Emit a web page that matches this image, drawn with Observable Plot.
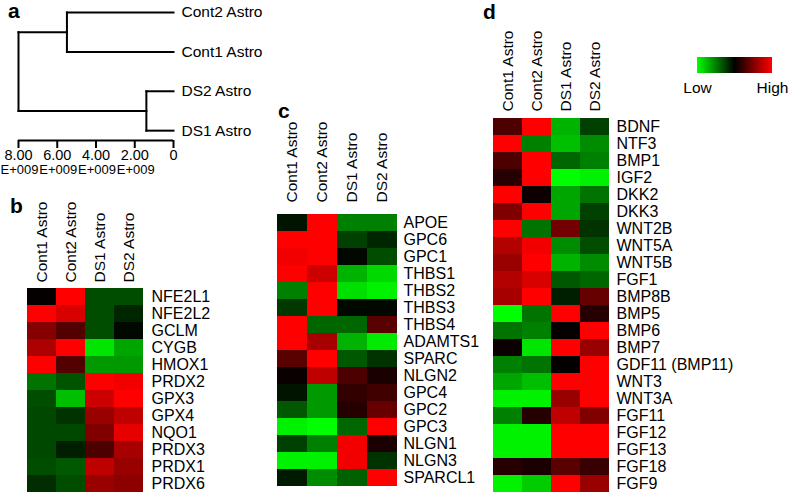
<!DOCTYPE html>
<html><head><meta charset="utf-8">
<script src="https://cdn.jsdelivr.net/npm/d3@7"></script>
<script src="https://cdn.jsdelivr.net/npm/@observablehq/plot@0.6"></script>
<style>
body{margin:0;background:#fff;}
#fig{position:relative;width:788px;height:493px;overflow:hidden;font-family:"Liberation Sans",Arial,Helvetica,sans-serif;color:#000;}
#fig svg{position:absolute;left:0;top:0;background:transparent !important;max-width:none !important;}
.panel{position:absolute;font-weight:bold;font-size:21px;line-height:1;}
</style></head><body><div id="fig"></div>
<script>
// ---------- data ----------
const samples = ["Cont1 Astro", "Cont2 Astro", "DS1 Astro", "DS2 Astro"];

const dendroLeaves = ["Cont2 Astro", "Cont1 Astro", "DS2 Astro", "DS1 Astro"];
const dendroMerges = [5.5, 1.4, 8.0]; // Cont cluster, DS cluster, root (x1e9)
const dendroTicks = [8, 6, 4, 2, 0];
const dendroTickLabels = ["8.00", "6.00", "4.00", "2.00", "0"];
const dendroTickExponents = ["E+009", "E+009", "E+009", "E+009", ""];

const genesB = ["NFE2L1","NFE2L2","GCLM","CYGB","HMOX1","PRDX2","GPX3","GPX4","NQO1","PRDX3","PRDX1","PRDX6"];
const valuesB = [
  [0.02, 1, -0.3, -0.3],
  [1, 0.85, -0.3, -0.15],
  [0.52, 0.32, -0.3, -0.03],
  [0.68, 1, -0.9, -0.65],
  [1, 0.32, -0.6, -0.6],
  [-0.45, -0.33, 1, 0.95],
  [-0.3, -0.75, 0.8, 1],
  [-0.28, -0.2, 0.6, 0.75],
  [-0.28, -0.28, 0.5, 0.9],
  [-0.28, -0.12, 0.3, 0.65],
  [-0.3, -0.35, 0.75, 0.6],
  [-0.18, -0.3, 0.6, 0.55]
];

const genesC = ["APOE","GPC6","GPC1","THBS1","THBS2","THBS3","THBS4","ADAMTS1","SPARC","NLGN2","GPC4","GPC2","GPC3","NLGN1","NLGN3","SPARCL1"];
const valuesC = [
  [-0.08, 1, -0.5, -0.5],
  [1, 1, -0.25, -0.15],
  [0.95, 1, -0.03, -0.3],
  [1, 0.8, -0.7, -0.85],
  [-0.5, 1, -0.88, -0.95],
  [-0.22, 1, -0.03, -0.03],
  [1, -0.4, -0.4, 0.35],
  [1, 0.65, -0.7, -0.92],
  [0.35, 1, -0.35, -0.2],
  [0.04, 0.75, 0.3, 0.1],
  [-0.08, -0.6, 0.2, 0.25],
  [-0.35, -0.6, 0.15, 0.4],
  [-0.95, -1, -0.4, 1],
  [-0.25, -0.5, 0.95, 0.1],
  [-0.95, -0.95, 0.95, -0.2],
  [-0.1, -0.55, -0.38, 1]
];

const genesD = ["BDNF","NTF3","BMP1","IGF2","DKK2","DKK3","WNT2B","WNT5A","WNT5B","FGF1","BMP8B","BMP5","BMP6","BMP7","GDF11 (BMP11)","WNT3","WNT3A","FGF11","FGF12","FGF13","FGF18","FGF9"];
const valuesD = [
  [0.3, 1, -0.7, -0.25],
  [1, -0.5, -0.75, -0.55],
  [0.3, 1, -0.4, -0.5],
  [0.15, 1, -1, -0.95],
  [1, 0.05, -0.65, -0.45],
  [0.5, 1, -0.65, -0.25],
  [1, -0.45, 0.45, -0.2],
  [0.7, 0.95, -0.55, -0.3],
  [0.6, 1, -0.7, -0.55],
  [0.7, 0.85, -0.35, -0.4],
  [0.65, 1, -0.12, 0.4],
  [-1, -0.45, 1, 0.15],
  [-0.45, -0.5, 0.02, 1],
  [0.05, -0.9, 1, 0.6],
  [-0.5, -0.45, 0.02, 1],
  [-0.65, -0.75, 1, 1],
  [-0.95, -0.95, 0.6, 1],
  [-0.5, 0.15, 0.75, 0.5],
  [-0.95, -0.95, 1, 1],
  [-0.95, -0.95, 1, 1],
  [0.15, 0.1, 0.35, 0.22],
  [-0.95, -0.8, 1, 0.6]
];

const colorDomain = [-1, 0, 1];
const colorRange = ["#00ff00", "#000000", "#ff0000"];
const legendLabels = ["Low", "High"];
const panelLetters = ["a", "b", "c", "d"];

// ---------- layout ----------
const W = 788, H = 493;
const FONT = '"Liberation Sans", Arial, Helvetica, sans-serif';
const fig = document.getElementById("fig");
const baseStyle = {background: "transparent", fontFamily: FONT, color: "#000", overflow: "visible"};
const colorScale = {type: "linear", domain: colorDomain, range: colorRange, interpolate: "rgb", clamp: true};

function heatmap(genes, values, left, right, top, bottom, pad) {
  const data = genes.flatMap((g, i) => samples.map((s, j) => ({gene: g, sample: s, v: values[i][j]})));
  return Plot.plot({
    width: W, height: H,
    marginLeft: left, marginRight: W - right, marginTop: top, marginBottom: H - bottom,
    style: {...baseStyle, fontSize: "16px"},
    x: {domain: samples, padding: 0, axis: null},
    y: {domain: genes, padding: 0, axis: null},
    color: colorScale,
    marks: [
      Plot.cell(data, {x: "sample", y: "gene", fill: "v", inset: 0, shapeRendering: "crispEdges"}),
      Plot.axisX({anchor: "top", tickRotate: -90, tickSize: 0, tickPadding: 6, fontSize: 15.5, label: null}),
      Plot.axisY({anchor: "right", tickSize: 0, tickPadding: pad, fontSize: 16, label: null})
    ]
  });
}

// dendrogram
const [hCont, hDS, hRoot] = dendroMerges;
const segs = [
  {x1: 0, y1: 0, x2: hCont, y2: 0}, {x1: 0, y1: 1, x2: hCont, y2: 1}, {x1: hCont, y1: 0, x2: hCont, y2: 1},
  {x1: 0, y1: 2, x2: hDS, y2: 2}, {x1: 0, y1: 3, x2: hDS, y2: 3}, {x1: hDS, y1: 2, x2: hDS, y2: 3},
  {x1: hCont, y1: 0.5, x2: hRoot, y2: 0.5}, {x1: hDS, y1: 2.5, x2: hRoot, y2: 2.5}, {x1: hRoot, y1: 0.5, x2: hRoot, y2: 2.5}
];
const tickLabelOf = new Map(dendroTicks.map((t, i) => [t, dendroTickLabels[i]]));
const expData = dendroTicks.map((t, i) => ({t, s: dendroTickExponents[i]}));
const dendro = Plot.plot({
  width: W, height: H,
  marginLeft: 18, marginRight: W - 173, marginTop: 12, marginBottom: H - 140,
  style: {...baseStyle, fontSize: "15.5px"},
  x: {domain: [8, 0], axis: null},
  y: {domain: [0, 3.25], reverse: true, axis: null},
  marks: [
    Plot.link(segs, {x1: "x1", y1: "y1", x2: "x2", y2: "y2", stroke: "#000", strokeWidth: 2, strokeLinecap: "square"}),
    Plot.text(dendroLeaves, {x: 0, y: (d, i) => i, text: d => d, textAnchor: "start", dx: 8, fontSize: 15.5}),
    Plot.ruleY([3.25], {x1: 8, x2: 0, stroke: "#000", strokeWidth: 2}),
    Plot.axisX(dendroTicks, {anchor: "bottom", tickSize: 8, tickPadding: 1, strokeWidth: 2, fontSize: 14.5, tickFormat: d => tickLabelOf.get(d), label: null}),
    Plot.text(expData, {x: "t", text: "s", frameAnchor: "bottom", dy: 33, fontSize: 13, dx: 1})
  ]
});

const plotB = heatmap(genesB, valuesB, 27, 143, 288, 492, 8);
const plotC = heatmap(genesC, valuesC, 277, 397, 208, 492, 6);
const plotD = heatmap(genesD, valuesD, 492, 610, 117, 492, 6);

const legend = Plot.legend({
  color: colorScale,
  width: W, height: 100,
  marginLeft: 697, marginRight: W - 772, marginTop: 57, marginBottom: 27,
  ticks: [-1, 1], tickSize: 6,
  tickFormat: d => d < 0 ? legendLabels[0] : legendLabels[1],
  style: {...baseStyle, fontSize: "15.5px"}
});
legend.querySelectorAll(".tick line").forEach(l => l.remove());

[dendro, plotB, plotC, plotD, legend].forEach(p => fig.appendChild(p));

// panel letters
const letterPos = [[8, 0], [10, 195], [278, 100], [483, 1]];
panelLetters.forEach((t, i) => {
  const s = document.createElement("div");
  s.className = "panel";
  s.textContent = t;
  s.style.left = letterPos[i][0] + "px";
  s.style.top = letterPos[i][1] + "px";
  fig.appendChild(s);
});
</script></body></html>
